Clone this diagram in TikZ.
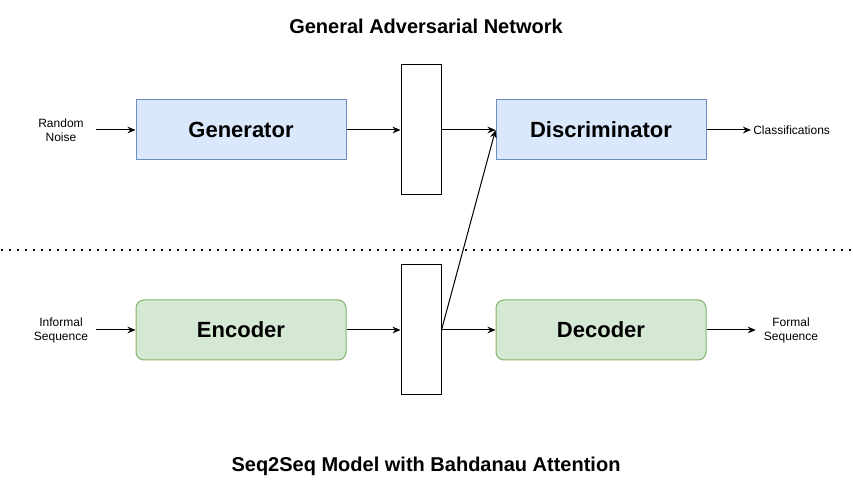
\documentclass[tikz,border=0pt]{standalone}
\usepackage{fontspec}
\setmainfont{Liberation Sans}
\usetikzlibrary{arrows.meta}
\definecolor{GanFill}{HTML}{DAE8FC}
\definecolor{GanLine}{HTML}{6C8EBF}
\definecolor{SeqFill}{HTML}{D5E8D4}
\definecolor{SeqLine}{HTML}{82B366}

\begin{document}
\begin{tikzpicture}[x=0.75pt, y=-0.75pt,
        block/.style={draw, line width=0.75pt, minimum width=157.5pt, minimum height=45pt, inner sep=0pt, font=\fontsize{16.5}{20}\selectfont\bfseries},
        ctx/.style={draw, line width=0.75pt, minimum width=30pt, minimum height=97.5pt, inner sep=0pt},
        lbl/.style={font=\fontsize{9}{10.5}\selectfont, align=center, inner sep=0pt, minimum width=52.5pt},
        ttl/.style={font=\fontsize{15}{18}\selectfont\bfseries},
        arr/.style={-{Stealth[length=6pt, width=5pt]}, line width=0.75pt}
    ]
        \useasboundingbox (0,0) rectangle (853,491);

        % titles
        \node[ttl] (gantitle) at (426,26) {General Adversarial Network};
        \node[ttl] (seqtitle) at (426,466) {Seq2Seq Model with Bahdanau Attention};

        % GAN row
        \node[lbl] (noise) at (61,130) {Random\\Noise};
        \node[block, fill=GanFill, draw=GanLine] (gen) at (241,130) {Generator};
        \node[ctx] (c1) at (421,130) {};
        \node[block, fill=GanFill, draw=GanLine] (disc) at (601,130) {Discriminator};
        \node[lbl, anchor=west, minimum width=0pt, inner sep=1.5pt] (cls) at (751,130) {Classifications};

        % separator
        \draw[line width=1.5pt, dash pattern=on 1.5pt off 4.5pt] (1,250) -- (853,250);

        % Seq2Seq row
        \node[lbl] (informal) at (61,330) {Informal\\Sequence};
        \node[block, fill=SeqFill, draw=SeqLine, rounded corners=6pt] (enc) at (241,330) {Encoder};
        \node[ctx] (c2) at (421,330) {};
        \node[block, fill=SeqFill, draw=SeqLine, rounded corners=6pt] (dec) at (601,330) {Decoder};
        \node[lbl] (formal) at (791,330) {Formal\\Sequence};

        \draw[arr] (noise) -- (gen);
        \draw[arr] (gen) -- (c1);
        \draw[arr] (c1) -- (disc);
        \draw[arr] (disc) -- (cls);
        \draw[arr] (informal) -- (enc);
        \draw[arr] (enc) -- (c2);
        \draw[arr] (c2) -- (dec);
        \draw[arr] (dec) -- (formal);
        \draw[arr] (c2.east) -- (disc.west);
    \end{tikzpicture}
\end{document}
